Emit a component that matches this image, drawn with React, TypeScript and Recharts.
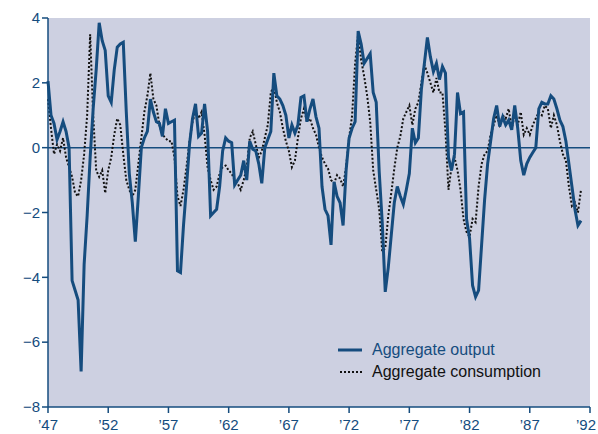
import { LineChart, Line, XAxis, YAxis, CartesianGrid, ReferenceLine } from "recharts";

// quarterly observations, 1947Q1 onward
const startYear = 1947;

const output = [
    2.05, 1.0, 0.75, 0.25, 0.5, 0.8, 0.5, 0.0,
    -4.1, -4.4, -4.7, -6.9, -3.6, -2.1, -0.3, 1.2,
    2.4, 3.85, 3.3, 3.0, 1.6, 1.4, 2.4, 3.1,
    3.2, 3.25, 1.1, -0.8, -1.7, -2.9, -1.5, 0.0,
    0.3, 0.5, 1.5, 1.1, 0.8, 0.75, 0.35, 1.2,
    0.75, 0.8, 0.85, -3.8, -3.85, -2.4, -1.2, 0.1,
    0.9, 1.35, 0.35, 0.45, 1.35, 0.5, -2.1, -2.0,
    -1.9, -1.2, -0.1, 0.3, 0.2, 0.15, -1.15, -1.0,
    -0.85, -0.4, -1.0, 0.2, -0.05, -0.1, -0.5, -1.1,
    0.0, 0.25, 0.5, 2.3, 1.6, 1.5, 1.3, 1.0,
    0.3, 0.7, 0.45, 0.7, 1.55, 1.6, 0.8, 1.2,
    1.5, 0.95, 0.6, -1.2, -1.9, -2.1, -3.0, -1.05,
    -1.5, -1.7, -2.4, -0.7, 0.3, 0.6, 0.8, 3.6,
    3.2, 2.6, 2.75, 2.9, 1.7, 1.4, -0.75, -2.3,
    -4.45, -3.7, -2.7, -1.7, -1.2, -1.5, -1.75, -1.3,
    -0.8, 0.6, 0.15, 0.3, 1.8, 2.6, 3.4, 2.8,
    2.35, 2.6, 2.1, 2.5, 2.3, -0.3, -0.7, -0.2,
    1.7, 1.05, 1.1, -2.2, -2.8, -4.25, -4.6, -4.4,
    -3.0, -1.6, -0.5, 0.2, 0.9, 1.3, 0.65, 0.95,
    0.7, 0.85, 0.55, 1.3, 0.6, -0.4, -0.85, -0.5,
    -0.3, -0.15, 0.0, 1.2, 1.4, 1.35, 1.35, 1.6,
    1.5, 1.2, 0.85, 0.65, 0.2, -0.5, -1.2, -1.9,
    -2.4, -2.25,
];

const consumption = [
    1.5, 0.6, -0.2, 0.1, -0.1, 0.3, -0.3, -0.6,
    -0.9, -1.4, -1.5, -1.0, -0.2, 1.0, 3.5, 1.0,
    -0.7, -0.9, -0.7, -1.4, -0.7, -0.3, 0.4, 0.9,
    0.7, -0.2, -1.0, -1.3, -1.5, -1.3, -0.5, 0.3,
    1.1, 1.6, 2.3, 1.5, 1.3, 0.7, 0.4, 0.3,
    0.2, 0.2, -0.3, -1.5, -1.8, -1.3, -0.6, 0.2,
    0.8, 1.1, 0.9, 1.1, 0.4, -0.6, -1.0, -1.3,
    -1.2, -0.8, -0.6, -0.55, -0.7, -0.8, -1.0, -1.1,
    -1.3, -1.0, -0.6, 0.3, 0.5, 0.1, -0.3, -0.1,
    0.3, 0.7, 1.7, 1.9, 1.4, 1.1, 0.6, 0.2,
    -0.1, -0.6, -0.4, 0.3, 0.9, 1.2, 0.8, 0.9,
    0.6, 0.4, 0.0, -0.3, -0.5, -0.65, -1.0, -1.1,
    -0.85, -0.95, -1.2, -0.6, 0.3, 1.0, 2.6, 3.5,
    2.7, 2.2, 1.6, 0.8, -0.7, -1.3, -1.9, -3.2,
    -3.1, -2.1, -1.4, -0.65, 0.0, 0.35, 0.9, 1.1,
    1.3, 0.7, 1.2, 1.4, 2.0, 2.55, 2.3, 2.0,
    1.7, 2.15, 1.7, 1.7, 0.5, -1.3, -0.6, -0.3,
    -0.7, -1.3, -2.2, -2.6, -2.75, -2.2, -2.3, -1.2,
    -0.5, -0.2, -0.1, 0.4, 0.7, 1.0, 0.7, 1.0,
    0.9, 1.2, 0.6, 1.0, 0.7, 1.1, 0.4, 0.6,
    0.4, 0.7, 0.9, 1.1, 1.0, 1.3, 1.2, 0.6,
    1.0, 0.7, 0.2, -0.2, -0.4, -1.2, -1.8, -1.7,
    -2.0, -1.3,
];

const xTicks = [1947, 1952, 1957, 1962, 1967, 1972, 1977, 1982, 1987, 1992];
const yTicks = [-8, -6, -4, -2, 0, 2, 4];

const data = output.map((v, i) => ({
    t: startYear + i / 4,
    output: v,
    consumption: consumption[i],
}));

const BLUE = "#154c7e";
const FONT = "'Liberation Sans', Arial, sans-serif";

// year tick, last one nudged left so it stays inside the frame
function YearTick(props: any) {
    const { x, y, payload } = props;
    const last = payload.value === xTicks[xTicks.length - 1];
    return (
        <text
            x={last ? x - 4 : x}
            y={y + 4}
            dy="0.71em"
            textAnchor="middle"
            fill={BLUE}
            fontSize={15}
            fontFamily={FONT}
        >
            {`\u2019${String(payload.value).slice(2)}`}
        </text>
    );
}

function LegendBox() {
    return (
        <div style={{ position: "absolute", left: 338, top: 339, fontFamily: FONT, fontSize: 16, lineHeight: "22px" }}>
            <div style={{ display: "flex", alignItems: "center", color: BLUE }}>
                <svg width={30} height={10} style={{ marginRight: 4 }}>
                    <line x1={0} y1={5} x2={24} y2={5} stroke={BLUE} strokeWidth={3} />
                </svg>
                Aggregate output
            </div>
            <div style={{ display: "flex", alignItems: "center", color: "#111" }}>
                <svg width={30} height={10} style={{ marginRight: 4 }}>
                    <line x1={2} y1={5} x2={24} y2={5} stroke="#111" strokeWidth={2} strokeDasharray="2 2" />
                </svg>
                Aggregate consumption
            </div>
        </div>
    );
}

export default function App() {
    return (
        <div style={{ position: "absolute", left: 0, top: 0, width: 598, height: 434, background: "#fff" }}>
            <LineChart width={598} height={434} data={data} margin={{ top: 18, right: 8, bottom: 0, left: 0 }}>
                <CartesianGrid horizontal={false} vertical={false} fill="#cdd0e1" />
                <XAxis
                    dataKey="t"
                    type="number"
                    domain={[1947, 1992]}
                    ticks={xTicks}
                    stroke={BLUE}
                    strokeWidth={1.5}
                    tickSize={6}
                    height={27}
                    tick={<YearTick />}
                    interval={0}
                />
                <YAxis
                    width={48}
                    domain={[-8, 4]}
                    ticks={yTicks}
                    tickFormatter={(v) => (v < 0 ? `\u2212${Math.abs(v)}` : `${v}`)}
                    stroke={BLUE}
                    strokeWidth={1.5}
                    tickSize={6}
                    tick={{ fill: BLUE, fontSize: 15, fontFamily: FONT }}
                    interval={0}
                />
                <ReferenceLine y={0} stroke={BLUE} strokeWidth={1.5} />
                <Line
                    type="linear"
                    dataKey="consumption"
                    stroke="#111"
                    strokeWidth={2}
                    strokeDasharray="2 2"
                    dot={false}
                    isAnimationActive={false}
                />
                <Line
                    type="linear"
                    dataKey="output"
                    stroke={BLUE}
                    strokeWidth={3}
                    dot={false}
                    isAnimationActive={false}
                />
            </LineChart>
            <LegendBox />
        </div>
    );
}
